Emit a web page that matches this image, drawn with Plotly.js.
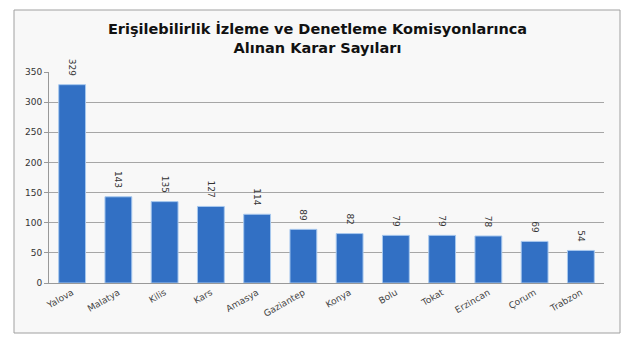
<!DOCTYPE html>
<html><head><meta charset="utf-8">
<script src="https://cdn.plot.ly/plotly-3.0.1.min.js"></script>
<style>html,body{margin:0;padding:0;background:#fff}#c{width:635px;height:340px}</style>
</head><body><div id="c"></div>
<script>
const categories = ["Yalova","Malatya","Kilis","Kars","Amasya","Gaziantep","Konya","Bolu","Tokat","Erzincan","Çorum","Trabzon"];
const values = [329,143,135,127,114,89,82,79,79,78,69,54];
const yTicks = [0,50,100,150,200,250,300,350];

const trace = {
  type: 'bar', x: categories, y: values,
  text: values.map(v => String(v) + '\u00a0\u00a0'), textposition: 'outside', textangle: 90,
  cliponaxis: false,
  textfont: {family: 'DejaVu Sans, Verdana, sans-serif', size: 9, color: '#333'},
  marker: {color: '#3270c4', line: {color: '#a8c8ee', width: 1}},
  hoverinfo: 'none'
};
const layout = {
  width: 635, height: 340,
  margin: {l: 49, r: 31, t: 72, b: 57},
  paper_bgcolor: '#ffffff', plot_bgcolor: '#f1f1f1',
  bargap: 0.42,
  showlegend: false,
  title: {text: 'Erişilebilirlik İzleme ve Denetleme Komisyonlarınca<br>Alınan Karar Sayıları',
    font: {family: 'DejaVu Sans, Verdana, sans-serif', size: 14.5, color: '#111', weight: 'bold'},
    x: 0.5, xanchor: 'center', y: 0.9, yanchor: 'top'},
  xaxis: {tickangle: -30, tickfont: {family: 'DejaVu Sans, Verdana, sans-serif', size: 9, color: '#444'},
    showline: true, linecolor: '#999', ticks: '', showgrid: false},
  yaxis: {range: [0, 350], tickvals: yTicks, ticktext: yTicks.map(String),
    tickfont: {family: 'DejaVu Sans, Verdana, sans-serif', size: 9, color: '#333'},
    showgrid: true, gridcolor: '#a6a6a6', gridwidth: 1, showline: true, linecolor: '#999',
    zeroline: false, ticks: 'outside', ticklen: 4, tickcolor: '#999'},
  shapes: [{type: 'rect', xref: 'paper', yref: 'paper', layer: 'below',
    x0: -35/555, x1: 571/555, y0: -50/211, y1: 273/211,
    line: {color: '#a0a0a0', width: 1}, fillcolor: '#f8f8f8'}]
};
Plotly.newPlot('c', [trace], layout, {displayModeBar: false, staticPlot: true});
</script></body></html>
